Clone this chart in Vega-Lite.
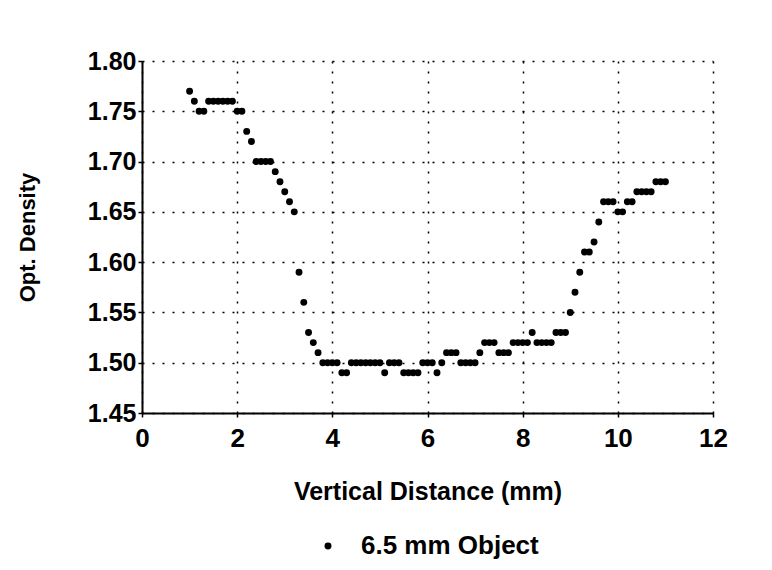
{
  "$schema": "https://vega.github.io/schema/vega-lite/v6.json",
  "width": 571,
  "height": 352,
  "autosize": {"type": "none"},
  "padding": {"left": 142, "top": 61, "right": 59, "bottom": 157},
  "background": "white",
  "config": {
    "view": {"stroke": null},
    "font": "Liberation Sans"
  },
  "data": {
    "values": [
      {"x": 1.0, "y": 1.77}, {"x": 1.1, "y": 1.76}, {"x": 1.2, "y": 1.75}, {"x": 1.3, "y": 1.75},
      {"x": 1.4, "y": 1.76}, {"x": 1.5, "y": 1.76}, {"x": 1.6, "y": 1.76}, {"x": 1.7, "y": 1.76},
      {"x": 1.8, "y": 1.76}, {"x": 1.9, "y": 1.76}, {"x": 2.0, "y": 1.75}, {"x": 2.1, "y": 1.75},
      {"x": 2.2, "y": 1.73}, {"x": 2.3, "y": 1.72}, {"x": 2.4, "y": 1.70}, {"x": 2.5, "y": 1.70},
      {"x": 2.6, "y": 1.70}, {"x": 2.7, "y": 1.70}, {"x": 2.8, "y": 1.69}, {"x": 2.9, "y": 1.68},
      {"x": 3.0, "y": 1.67}, {"x": 3.1, "y": 1.66}, {"x": 3.2, "y": 1.65}, {"x": 3.3, "y": 1.59},
      {"x": 3.4, "y": 1.56}, {"x": 3.5, "y": 1.53}, {"x": 3.6, "y": 1.52}, {"x": 3.7, "y": 1.51},
      {"x": 3.8, "y": 1.50}, {"x": 3.9, "y": 1.50}, {"x": 4.0, "y": 1.50}, {"x": 4.1, "y": 1.50},
      {"x": 4.2, "y": 1.49}, {"x": 4.3, "y": 1.49}, {"x": 4.4, "y": 1.50}, {"x": 4.5, "y": 1.50},
      {"x": 4.6, "y": 1.50}, {"x": 4.7, "y": 1.50}, {"x": 4.8, "y": 1.50}, {"x": 4.9, "y": 1.50},
      {"x": 5.0, "y": 1.50}, {"x": 5.1, "y": 1.49}, {"x": 5.2, "y": 1.50}, {"x": 5.3, "y": 1.50},
      {"x": 5.4, "y": 1.50}, {"x": 5.5, "y": 1.49}, {"x": 5.6, "y": 1.49}, {"x": 5.7, "y": 1.49},
      {"x": 5.8, "y": 1.49}, {"x": 5.9, "y": 1.50}, {"x": 6.0, "y": 1.50}, {"x": 6.1, "y": 1.50},
      {"x": 6.2, "y": 1.49}, {"x": 6.3, "y": 1.50}, {"x": 6.4, "y": 1.51}, {"x": 6.5, "y": 1.51},
      {"x": 6.6, "y": 1.51}, {"x": 6.7, "y": 1.50}, {"x": 6.8, "y": 1.50}, {"x": 6.9, "y": 1.50},
      {"x": 7.0, "y": 1.50}, {"x": 7.1, "y": 1.51}, {"x": 7.2, "y": 1.52}, {"x": 7.3, "y": 1.52},
      {"x": 7.4, "y": 1.52}, {"x": 7.5, "y": 1.51}, {"x": 7.6, "y": 1.51}, {"x": 7.7, "y": 1.51},
      {"x": 7.8, "y": 1.52}, {"x": 7.9, "y": 1.52}, {"x": 8.0, "y": 1.52}, {"x": 8.1, "y": 1.52},
      {"x": 8.2, "y": 1.53}, {"x": 8.3, "y": 1.52}, {"x": 8.4, "y": 1.52}, {"x": 8.5, "y": 1.52},
      {"x": 8.6, "y": 1.52}, {"x": 8.7, "y": 1.53}, {"x": 8.8, "y": 1.53}, {"x": 8.9, "y": 1.53},
      {"x": 9.0, "y": 1.55}, {"x": 9.1, "y": 1.57}, {"x": 9.2, "y": 1.59}, {"x": 9.3, "y": 1.61},
      {"x": 9.4, "y": 1.61}, {"x": 9.5, "y": 1.62}, {"x": 9.6, "y": 1.64}, {"x": 9.7, "y": 1.66},
      {"x": 9.8, "y": 1.66}, {"x": 9.9, "y": 1.66}, {"x": 10.0, "y": 1.65}, {"x": 10.1, "y": 1.65},
      {"x": 10.2, "y": 1.66}, {"x": 10.3, "y": 1.66}, {"x": 10.4, "y": 1.67}, {"x": 10.5, "y": 1.67},
      {"x": 10.6, "y": 1.67}, {"x": 10.7, "y": 1.67}, {"x": 10.8, "y": 1.68}, {"x": 10.9, "y": 1.68},
      {"x": 11.0, "y": 1.68}
    ]
  },
  "mark": {"type": "circle", "size": 48, "opacity": 1},
  "encoding": {
    "x": {
      "field": "x",
      "type": "quantitative",
      "scale": {"domain": [0, 12], "nice": false, "zero": false},
      "axis": {
        "title": "Vertical Distance (mm)",
        "values": [0, 2, 4, 6, 8, 10, 12],
        "format": "d",
        "grid": true,
        "gridColor": "black",
        "gridDash": [2, 8],
        "gridWidth": 1.5,
        "gridOpacity": 1,
        "domainColor": "black",
        "domainWidth": 2,
        "tickColor": "black",
        "tickSize": 4,
        "tickWidth": 1.5,
        "labelFlush": false,
        "labelFont": "Liberation Sans",
        "labelFontWeight": "bold",
        "labelFontSize": 26,
        "labelColor": "black",
        "labelPadding": 8,
        "titleFont": "Liberation Sans",
        "titleFontWeight": "bold",
        "titleFontSize": 25,
        "titleColor": "black",
        "titlePadding": 28
      }
    },
    "y": {
      "field": "y",
      "type": "quantitative",
      "scale": {"domain": [1.45, 1.8], "nice": false, "zero": false},
      "axis": {
        "title": "Opt. Density",
        "values": [1.45, 1.5, 1.55, 1.6, 1.65, 1.7, 1.75, 1.8],
        "format": ".2f",
        "grid": true,
        "gridColor": "black",
        "gridDash": [2, 8],
        "gridWidth": 1.5,
        "gridOpacity": 1,
        "domainColor": "black",
        "domainWidth": 2,
        "tickColor": "black",
        "tickSize": 4,
        "tickWidth": 1.5,
        "labelFlush": false,
        "labelFont": "Liberation Sans",
        "labelFontWeight": "bold",
        "labelFontSize": 25,
        "labelColor": "black",
        "labelPadding": 2,
        "titleFont": "Liberation Sans",
        "titleFontWeight": "bold",
        "titleFontSize": 22,
        "titleColor": "black",
        "titlePadding": 48
      }
    },
    "color": {
      "datum": "6.5 mm Object",
      "type": "nominal",
      "scale": {"range": ["black"]},
      "legend": {
        "title": null,
        "orient": "none",
        "legendX": 173,
        "legendY": 472,
        "symbolType": "circle",
        "symbolSize": 30,
        "symbolFillColor": "black",
        "symbolStrokeColor": "black",
        "labelFont": "Liberation Sans",
        "labelFontWeight": "bold",
        "labelFontSize": 26,
        "labelColor": "black",
        "labelOffset": 20,
        "labelLimit": 400
      }
    }
  }
}
